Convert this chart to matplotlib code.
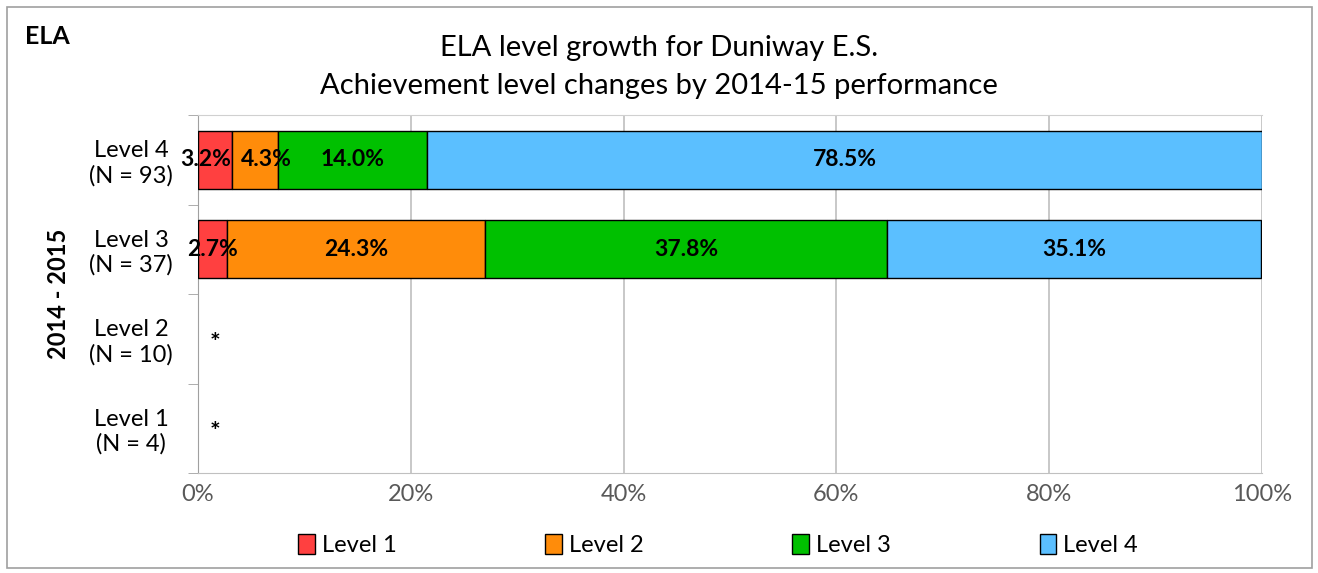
import matplotlib.pyplot as plt
import numpy as np
from matplotlib.patches import Rectangle

plt.rcParams["font.family"] = ["Lato", "DejaVu Sans"]

categories = ["Level 1\n(N = 4)", "Level 2\n(N = 10)", "Level 3\n(N = 37)", "Level 4\n(N = 93)"]
series_names = ["Level 1", "Level 2", "Level 3", "Level 4"]
# percent of students per 2015-16 level, rows follow categories
level1 = [0.0, 0.0, 2.7, 3.2]
level2 = [0.0, 0.0, 24.3, 4.3]
level3 = [0.0, 0.0, 37.8, 14.0]
level4 = [0.0, 0.0, 35.1, 78.5]
suppressed = [True, True, False, False]
colors = ["#FF4040", "#FF8C0A", "#00C000", "#5BBFFF"]
# small horizontal nudges (points) for crowded labels: (row, series) -> dx
label_nudge = {(3, 0): -6.5, (3, 1): 8}

fig = plt.figure(figsize=(13.18, 5.73), dpi=100)
ax = fig.add_axes([198 / 1318, 1 - 473 / 573, (1262 - 198) / 1318, (473 - 115) / 573])

# outer frame
fig.patches.append(Rectangle((7 / 1318, 5 / 573), 1305 / 1318, 561 / 573,
                             transform=fig.transFigure, fill=False,
                             edgecolor="#A0A0A0", linewidth=1.2))

y = np.arange(len(categories))
left = np.zeros(len(categories))
for k, (name, vals, col) in enumerate(zip(series_names, [level1, level2, level3, level4], colors)):
    vals = np.array(vals)
    mask = vals > 0
    ax.barh(y[mask], vals[mask], left=left[mask], height=0.65, color=col,
            edgecolor="black", linewidth=1.0, label=name, zorder=3)
    for i, (v, l) in enumerate(zip(vals, left)):
        if v > 0:
            ax.annotate(f"{v:.1f}%", (l + v / 2, i),
                        xytext=(label_nudge.get((i, k), 0), 0),
                        textcoords="offset points", ha="center", va="center",
                        fontsize=16.5, fontweight="bold", zorder=4)
    left += vals

for i, s in enumerate(suppressed):
    if s:
        ax.text(1.6, i - 0.05, "*", ha="center", va="center",
                fontsize=18, fontweight="bold")

ax.set_xlim(0, 100)
ax.set_ylim(-0.5, 3.5)
ax.set_xticks(np.arange(0, 101, 20))
ax.set_xticklabels([f"{t}%" for t in range(0, 101, 20)], fontsize=17, color="#595959")
ax.set_yticks(y)
ax.set_yticklabels(categories, fontsize=17, ha="center", multialignment="center")
ax.set_yticks(np.arange(-0.5, 4, 1), minor=True)
ax.tick_params(axis="y", which="major", length=0, pad=48)
ax.tick_params(axis="y", which="minor", length=7, color="#A0A0A0")
ax.tick_params(axis="x", length=0, pad=8)
ax.grid(axis="x", color="#BFBFBF", linewidth=1.2, zorder=0)
ax.spines["right"].set_visible(False)
ax.spines["top"].set_color("#D0D0D0")
ax.spines["left"].set_color("#A0A0A0")
ax.spines["bottom"].set_color("#C0C0C0")

ax.set_ylabel("2014 - 2015", fontsize=17, fontweight="bold")
ax.yaxis.set_label_coords(-128 / 1064, 0.5)

fig.text(25 / 1318, 1 - 36 / 573, "ELA", fontsize=18, fontweight="bold", va="center")
fig.text(0.5, 1 - 48 / 573, "ELA level growth for Duniway E.S.", fontsize=21,
         ha="center", va="center")
fig.text(0.5, 1 - 86 / 573, "Achievement level changes by 2014-15 performance",
         fontsize=21, ha="center", va="center")

fig.legend(loc="center", bbox_to_anchor=(718 / 1318, 1 - 545 / 573), ncol=4,
           frameon=False, fontsize=17, handlelength=0.7, handleheight=0.9,
           handletextpad=0.3, columnspacing=6.3)

fig.savefig("out.png", dpi=100)
